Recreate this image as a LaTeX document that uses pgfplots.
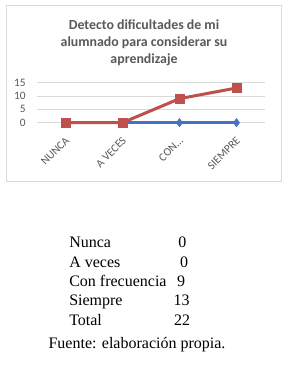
\documentclass[border=0pt]{standalone}
\usepackage{fontspec}
\setmainfont{Liberation Serif}
\newfontfamily\carlito{Carlito}
\usepackage{pgfplots}
\pgfplotsset{compat=1.18}
\definecolor{txtgray}{HTML}{595959}
\definecolor{gridgray}{HTML}{D9D9D9}
\definecolor{xred}{HTML}{C0504D}
\definecolor{xblue}{HTML}{4472C4}
\newcommand{\condots}{CON.{}.{}.}
\begin{document}
\begin{tikzpicture}
\useasboundingbox (0pt,0pt) rectangle (216.75pt,-280.5pt);
\fill[white] (0pt,0pt) rectangle (216.75pt,-280.5pt);
\draw[gridgray, line width=0.75pt] (4.5pt,-4.5pt) rectangle (210.75pt,-135.75pt);
% title
\tikzset{ttl/.style={anchor=base, inner sep=0pt, text=txtgray, font=\carlito\bfseries\fontsize{10.4}{13}\selectfont}}
\node[ttl] at (108pt,-22pt) {Detecto dificultades de mi};
\node[ttl] at (108pt,-35pt) {alumnado para considerar su};
\node[ttl] at (108pt,-48pt) {aprendizaje};
\begin{axis}[
  at={(27.75pt,-62pt)}, anchor=north west,
  scale only axis, width=171pt, height=30pt,
  xmin=-0.5, xmax=3.5, ymin=0, ymax=15,
  ytick={0,5,10,15}, yticklabels={0,5,10,15},
  xtick={0,1,2,3}, xticklabels={NUNCA,A VECES,\condots,SIEMPRE},
  ymajorgrids, grid style={gridgray, line width=0.75pt},
  axis line style={draw=none}, tick style={draw=none},
  yticklabel style={font=\carlito\fontsize{8.5}{10}\selectfont, text=txtgray, anchor=east, inner sep=0pt, xshift=-8.25pt},
  xticklabel style={font=\carlito\fontsize{8.5}{10}\selectfont, text=txtgray, xshift=1.5pt, yshift=-12pt, rotate=45, anchor=east, inner sep=0pt},
  clip=false,
]
\addplot[xblue, line width=2.25pt, mark=diamond*, mark size=3pt, mark options={xblue, line width=0.5pt}] coordinates {(0,0) (1,0) (2,0) (3,0)};
\addplot[xred, line width=2.25pt, mark=square*, mark size=3.4pt, mark options={xred, line width=0.5pt}] coordinates {(0,0) (1,0) (2,9) (3,13)};
\end{axis}
% table
\tikzset{tb/.style={inner sep=0pt, font=\fontsize{12}{14}\selectfont}}
\node[tb, anchor=base west] at (51.75pt,-185.25pt) {Nunca};
\node[tb, anchor=base west] at (51.75pt,-200.25pt) {A veces};
\node[tb, anchor=base west] at (51.75pt,-214.5pt) {Con frecuencia};
\node[tb, anchor=base west] at (51.75pt,-228.75pt) {Siempre};
\node[tb, anchor=base west] at (51.75pt,-243.75pt) {Total};
\node[tb, anchor=base] at (136.75pt,-185.25pt) {0};
\node[tb, anchor=base] at (138pt,-200.25pt) {0};
\node[tb, anchor=base] at (135.75pt,-214.5pt) {9};
\node[tb, anchor=base] at (136.25pt,-228.75pt) {13};
\node[tb, anchor=base] at (136.5pt,-243.75pt) {22};
\node[tb, anchor=base west] at (36.25pt,-261pt) {Fuente: elaboración propia.};
\end{tikzpicture}
\end{document}
